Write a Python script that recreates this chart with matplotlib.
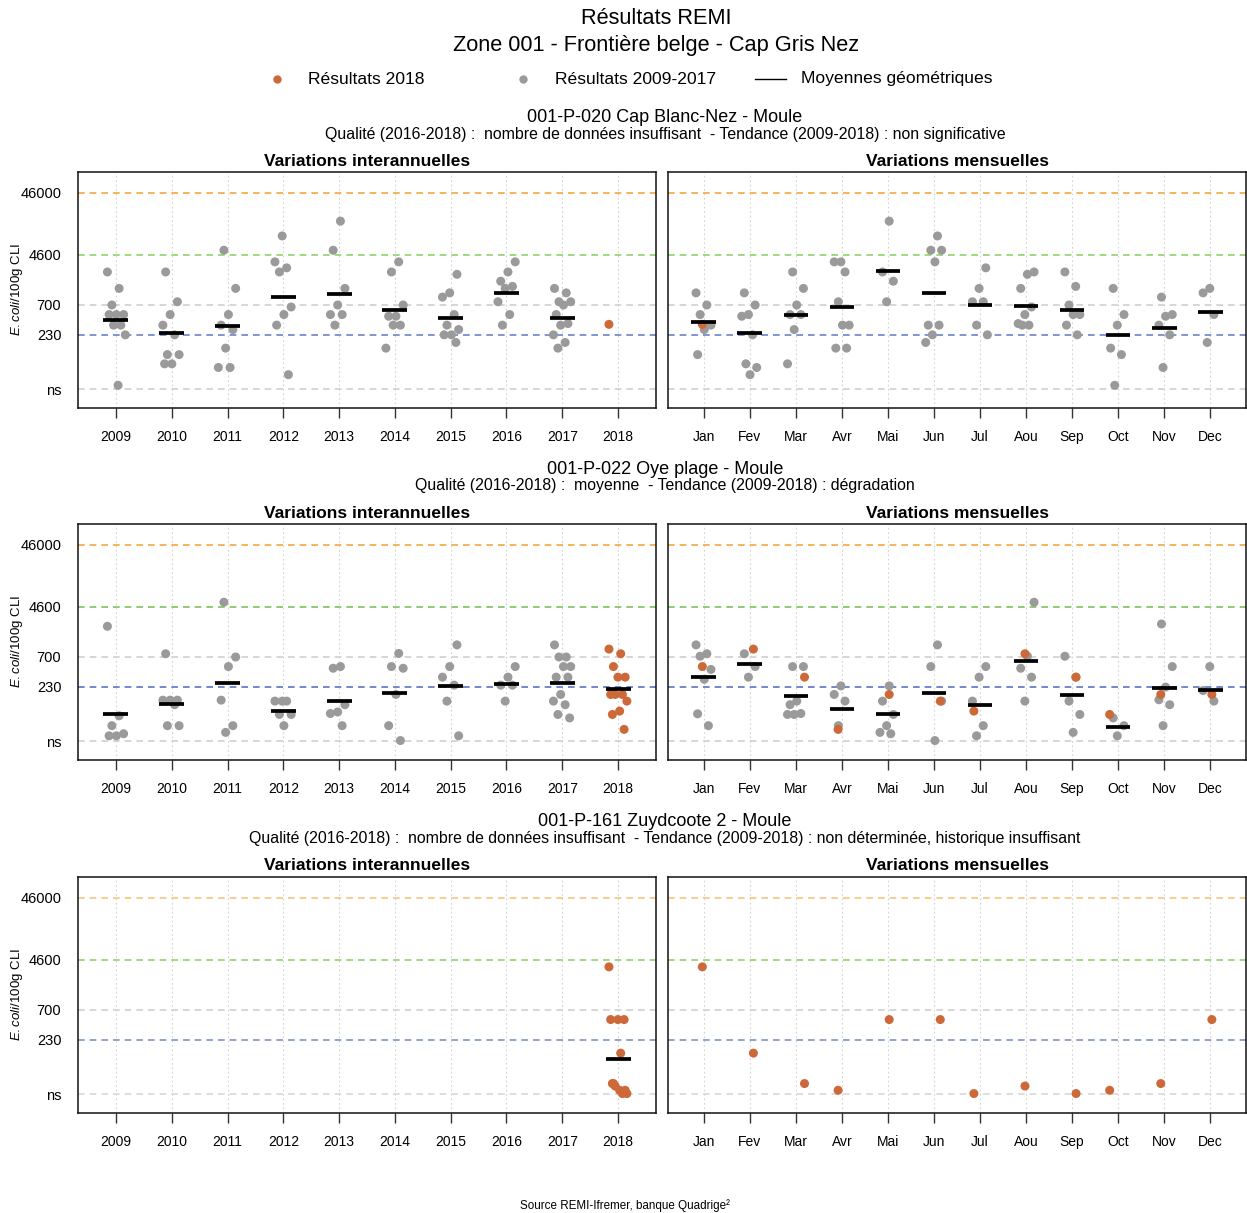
import numpy as np
import matplotlib
matplotlib.use("Agg")
import matplotlib.pyplot as plt
from matplotlib.lines import Line2D

plt.rcParams['font.family'] = ['Liberation Sans', 'DejaVu Sans']
plt.rcParams['mathtext.fontset'] = 'custom'
plt.rcParams['mathtext.it'] = 'Liberation Sans:italic'
plt.rcParams['mathtext.rm'] = 'Liberation Sans'

# ---------------- data ----------------
YEARS = ['2009', '2010', '2011', '2012', '2013', '2014', '2015', '2016', '2017', '2018']
MONTHS = ['Jan', 'Fev', 'Mar', 'Avr', 'Mai', 'Jun', 'Jul', 'Aou', 'Sep', 'Oct', 'Nov', 'Dec']
Y_TICKS = [30, 230, 700, 4600, 46000]
Y_TICK_LABELS = ['ns', '230', '700', '4600', '46000']

SITE_NAMES = ['001-P-020 Cap Blanc-Nez - Moule',
              '001-P-022 Oye plage - Moule',
              '001-P-161 Zuydcoote 2 - Moule']
SITE_SUBTITLES = [
    'Qualité (2016-2018) :  nombre de données insuffisant  - Tendance (2009-2018) : non significative',
    'Qualité (2016-2018) :  moyenne  - Tendance (2009-2018) : dégradation',
    'Qualité (2016-2018) :  nombre de données insuffisant  - Tendance (2009-2018) : non déterminée, historique insuffisant',
]

# Site 1 : 001-P-020
S1_YEAR_PAST = [
    [2400, 1300, 700, 490, 490, 490, 330, 330, 230, 35],
    [2400, 790, 490, 330, 230, 110, 110, 78, 78],
    [5400, 1300, 490, 330, 280, 140, 68, 68],
    [9200, 3500, 2800, 2400, 650, 490, 330, 52],
    [16000, 5400, 1300, 700, 490, 490, 330],
    [3500, 2400, 700, 460, 460, 330, 330, 140],
    [2200, 1100, 940, 490, 330, 280, 230, 230, 173],
    [3500, 2400, 1700, 1400, 1300, 790, 490, 330],
    [1300, 1100, 790, 790, 700, 490, 350, 330, 230, 173, 140],
    [],
]
S1_YEAR_2018 = [[], [], [], [], [], [], [], [], [], [340]]
S1_YEAR_MEAN = [400, 248, 321, 943, 1055, 582, 438, 1108, 438, None]
S1_MONTH_PAST = [
    [1100, 700, 490, 330, 280, 110],
    [1100, 700, 490, 460, 230, 78, 68, 52],
    [2400, 1300, 700, 490, 490, 280, 78],
    [3500, 3500, 2400, 790, 330, 330, 140, 140],
    [16000, 2400, 1700, 790],
    [9200, 5400, 5400, 3500, 330, 330, 230, 173],
    [2800, 1300, 790, 790, 330, 230],
    [2400, 2200, 1300, 650, 490, 350, 330, 330],
    [2400, 1400, 700, 490, 490, 330, 230],
    [1300, 490, 330, 140, 110, 35],
    [940, 490, 460, 330, 230, 68],
    [1300, 1100, 490, 173],
]
S1_MONTH_2018 = [[340], [], [], [], [], [], [], [], [], [], [], []]
S1_MONTH_MEAN = [373, 248, 483, 650, 2500, 1095, 702, 675, 588, 230, 302, 541]

# Site 2 : 001-P-022
S2_YEAR_PAST = [
    [2200, 78, 54, 40, 37, 37],
    [790, 140, 140, 140, 118, 54, 54],
    [5400, 700, 490, 140, 54, 42],
    [135, 135, 135, 82, 82, 54],
    [490, 460, 118, 90, 85, 54],
    [800, 490, 460, 173, 54, 31],
    [1100, 490, 330, 245, 135, 37],
    [490, 330, 245, 245, 135],
    [1100, 700, 700, 490, 490, 330, 330, 173, 135, 118, 82, 72],
    [],
]
S2_YEAR_2018 = [[], [], [], [], [], [], [], [], [],
                [940, 790, 490, 330, 330, 173, 173, 173, 135, 93, 82, 47]]
S2_YEAR_MEAN = [82, 119, 270, 93, 138, 182, 235, 254, 264, 211]
S2_MONTH_PAST = [
    [1100, 790, 720, 440, 305, 84, 54],
    [790, 490, 330],
    [490, 490, 135, 118, 85, 82, 82],
    [238, 173, 135, 54],
    [238, 135, 82, 54, 42, 40],
    [1100, 490, 135, 31],
    [490, 330, 135, 54, 37],
    [5400, 720, 460, 330, 135],
    [720, 330, 135, 82, 42],
    [72, 54, 37],
    [2400, 490, 228, 142, 118, 54],
    [490, 200, 135],
]
S2_MONTH_2018 = [[490], [940], [330], [47], [173], [135], [93], [790], [330], [82], [173], [173]]
S2_MONTH_MEAN = [330, 547, 163, 100, 82, 180, 118, 597, 169, 51, 218, 203]

# Site 3 : 001-P-161 (2018 only)
S3_YEAR_PAST = [[] for _ in YEARS]
S3_YEAR_2018 = [[], [], [], [], [], [], [], [], [],
                [3500, 140, 45, 35, 490, 490, 31, 41, 31, 35, 45, 490]]
S3_YEAR_MEAN = [None] * 9 + [111]
S3_MONTH_PAST = [[] for _ in MONTHS]
S3_MONTH_2018 = [[3500], [140], [45], [35], [490], [490], [31], [41], [31], [35], [45], [490]]
S3_MONTH_MEAN = [None] * 12

SITES = [
    (S1_YEAR_PAST, S1_YEAR_2018, S1_YEAR_MEAN, S1_MONTH_PAST, S1_MONTH_2018, S1_MONTH_MEAN),
    (S2_YEAR_PAST, S2_YEAR_2018, S2_YEAR_MEAN, S2_MONTH_PAST, S2_MONTH_2018, S2_MONTH_MEAN),
    (S3_YEAR_PAST, S3_YEAR_2018, S3_YEAR_MEAN, S3_MONTH_PAST, S3_MONTH_2018, S3_MONTH_MEAN),
]

# ---------------- style ----------------
W, H = 1247, 1213
COL_NEW = '#CD6839'
COL_OLD = '#9A9A9A'
LINE_COLS = [
    {46000: '#F7A640', 4600: '#8ED468', 700: '#D0D0D0', 230: '#6A83CC', 30: '#D0D0D0'},
    {46000: '#F7A640', 4600: '#7CC25C', 700: '#D0D0D0', 230: '#5A74C8', 30: '#D0D0D0'},
    {46000: '#FBC37C', 4600: '#8ED468', 700: '#D0D0D0', 230: '#7F92CC', 30: '#D8D8D8'},
]
ROW_TOPS = [172, 524, 877]
PANEL_H = 236
LEFT_X, RIGHT_X, PANEL_W = 78, 668, 578

fig = plt.figure(figsize=(W / 100, H / 100), dpi=100)


def fx(x):
    return x / W


def fy(y):
    return 1 - y / H


def jitter(n, width, phase):
    k = np.arange(n)
    return ((k * 0.618034 + phase) % 1.0 - 0.5) * 2 * width


def draw_panel(ax, cats, past, new, means, jw, bar_hw, xlim, line_cols, show_y):
    ax.set_yscale('log')
    ax.set_ylim(15, 100000)
    ax.set_xlim(*xlim)
    xs = np.arange(1, len(cats) + 1)
    for xv in xs:
        ax.axvline(xv, color='#D3D3D3', lw=0.8, ls=(0, (1.5, 2.5)), zorder=1)
    for yv, c in line_cols.items():
        ax.axhline(yv, color=c, lw=1.2, ls=(0, (4, 3)), zorder=1)
    for i, vals in enumerate(past):
        if vals:
            off = jitter(len(vals), jw, 0.13 * i + 0.05)
            ax.scatter(xs[i] + off, vals, s=42, color=COL_OLD, edgecolors='none', zorder=3)
    for i, vals in enumerate(new):
        if vals:
            off = jitter(len(vals), jw, 0.29 * i + 0.41)
            ax.scatter(xs[i] + off, vals, s=42, color=COL_NEW, edgecolors='none', zorder=4)
    for i, m in enumerate(means):
        if m is not None:
            ax.plot([xs[i] - bar_hw, xs[i] + bar_hw], [m, m], color='black', lw=2.7,
                    solid_capstyle='butt', zorder=5)
    ax.set_xticks(xs)
    ax.set_xticklabels(cats, fontsize=10)
    ax.minorticks_off()
    ax.tick_params(axis='x', direction='out', length=7, width=1, pad=9, color='#333333')
    ax.set_yticks(Y_TICKS)
    if show_y:
        ax.set_yticklabels(Y_TICK_LABELS, fontsize=10.5)
        ax.tick_params(axis='y', length=0, pad=12)
    else:
        ax.set_yticklabels([])
        ax.tick_params(axis='y', length=0)
    ax.yaxis.set_minor_locator(matplotlib.ticker.NullLocator())
    for sp in ax.spines.values():
        sp.set_linewidth(1.1)
        sp.set_color('#111111')


for r, (top, site) in enumerate(zip(ROW_TOPS, SITES)):
    ypast, ynew, ymean, mpast, mnew, mmean = site
    axL = fig.add_axes([fx(LEFT_X), fy(top + PANEL_H), fx(PANEL_W), PANEL_H / H])
    axR = fig.add_axes([fx(RIGHT_X), fy(top + PANEL_H), fx(PANEL_W), PANEL_H / H])
    draw_panel(axL, YEARS, ypast, ynew, ymean, 0.17, 0.225, (0.32, 10.68), LINE_COLS[r], True)
    draw_panel(axR, MONTHS, mpast, mnew, mmean, 0.19, 0.27, (0.22, 12.78), LINE_COLS[r], False)
    fig.text(fx(665), fy(top - 55), SITE_NAMES[r], ha='center', va='center', fontsize=13)
    fig.text(fx(665), fy(top - 38), SITE_SUBTITLES[r], ha='center', va='center', fontsize=11.4)
    fig.text(fx(367), fy(top - 11), 'Variations interannuelles', ha='center', va='center',
             fontsize=12.5, fontweight='bold')
    fig.text(fx(957), fy(top - 11), 'Variations mensuelles', ha='center', va='center',
             fontsize=12.5, fontweight='bold')
    fig.text(fx(17), fy(top + 118), r'$\mathit{E.coli}$/100g CLI', rotation=90,
             ha='center', va='center', fontsize=9.5)

# titles
fig.text(fx(656), fy(18), 'Résultats REMI', ha='center', va='center', fontsize=15.7)
fig.text(fx(656), fy(45), 'Zone 001 - Frontière belge - Cap Gris Nez', ha='center', va='center',
         fontsize=15.7)

# legend
fig.add_artist(Line2D([fx(277)], [fy(79)], marker='o', ms=6, color=COL_NEW, mec='none', ls='none'))
fig.text(fx(308), fy(79), 'Résultats 2018', ha='left', va='center', fontsize=12.6)
fig.add_artist(Line2D([fx(523)], [fy(79)], marker='o', ms=6, color=COL_OLD, mec='none', ls='none'))
fig.text(fx(555), fy(79), 'Résultats 2009-2017', ha='left', va='center', fontsize=12.6)
fig.add_artist(Line2D([fx(755), fx(786)], [fy(79), fy(79)], color='black', lw=1))
fig.text(fx(801), fy(79), 'Moyennes géométriques', ha='left', va='center', fontsize=12.6)

fig.text(fx(625), fy(1206), 'Source REMI-Ifremer, banque Quadrige²', ha='center', va='center',
         fontsize=8.4)

fig.savefig('out.png', dpi=100)
